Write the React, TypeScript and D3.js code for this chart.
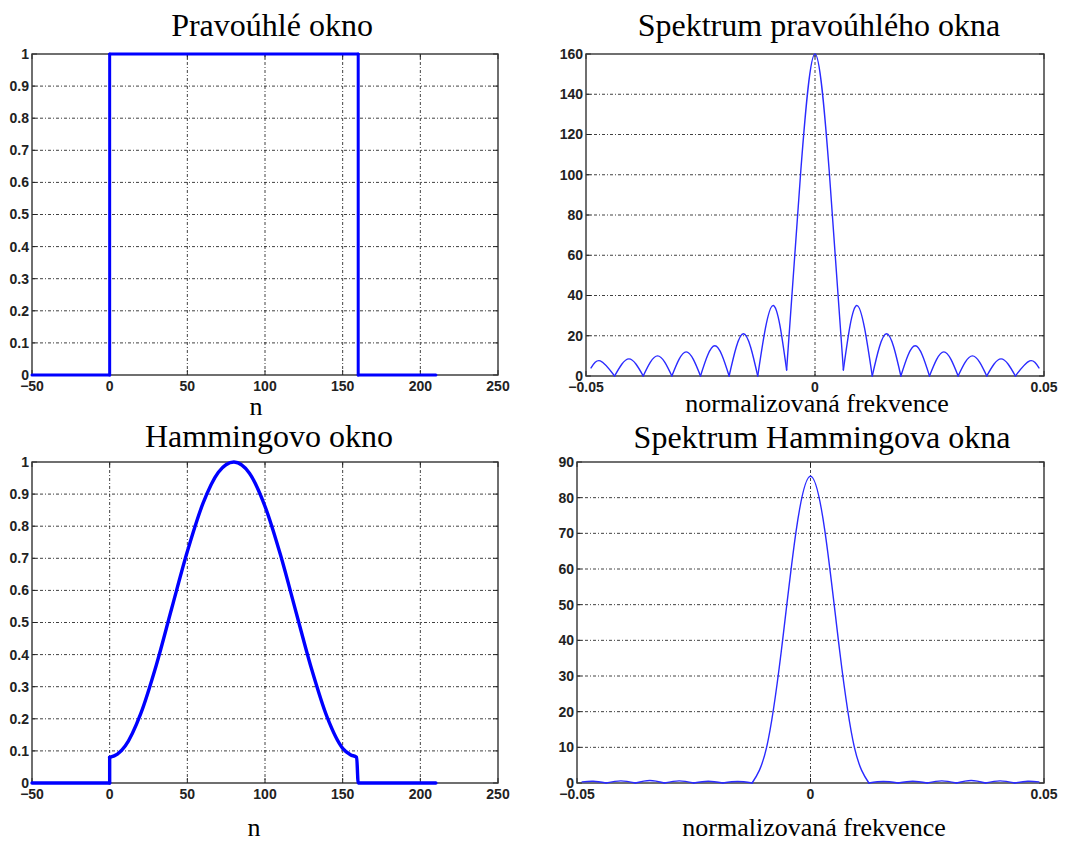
import React from 'react';
import * as d3 from 'd3';

// ---------- tick values ----------
const windowTicksX = [-50, 0, 50, 100, 150, 200, 250];
const windowTicksY = [0, 0.1, 0.2, 0.3, 0.4, 0.5, 0.6, 0.7, 0.8, 0.9, 1];
const specTicksX = [-0.05, 0, 0.05];
const rectSpecTicksY = [0, 20, 40, 60, 80, 100, 120, 140, 160];
const hammSpecTicksY = [0, 10, 20, 30, 40, 50, 60, 70, 80, 90];

// ---------- rectangular window ----------
const rectWinN = [-50, 0, 0, 160, 160, 210];
const rectWinVal = [0, 0, 1, 1, 0, 0];

// ---------- Hamming window ----------
const hammWinN = [-50, 0, 0, 5, 10, 20, 30, 40, 50, 60, 70, 80, 90, 100, 110, 120, 130, 140, 150, 155, 159, 160, 210];
const hammWinVal = [0, 0, 0.08, 0.09, 0.115, 0.216, 0.367, 0.545, 0.721, 0.87, 0.968, 1.0, 0.965, 0.862, 0.71, 0.532, 0.355, 0.205, 0.108, 0.088, 0.08, 0, 0];

// ---------- spectrum of rectangular window ----------
const rectSpecF = [-0.0489, -0.046875, -0.04375, -0.040625, -0.0375, -0.034375, -0.03125, -0.028125, -0.025, -0.021875, -0.01875, -0.015625, -0.0125, -0.0092, -0.0062, -0.0031, 0, 0.0031, 0.0062, 0.0092, 0.0125, 0.015625, 0.01875, 0.021875, 0.025, 0.028125, 0.03125, 0.034375, 0.0375, 0.040625, 0.04375, 0.046875, 0.0489];
const rectSpecVal = [4, 7.5, 0, 8.5, 0, 10, 0, 12, 0, 15, 0, 21, 0, 35, 3, 102, 160, 102, 3, 35, 0, 21, 0, 15, 0, 12, 0, 10, 0, 8.5, 0, 7.5, 4];

// ---------- spectrum of Hamming window ----------
const hammSpecF = [-0.0489, -0.0465, -0.04375, -0.0406, -0.0375, -0.0344, -0.03125, -0.0281, -0.025, -0.0219, -0.01875, -0.0156, -0.0125, -0.0094, -0.00625, -0.0031, 0, 0.0031, 0.00625, 0.0094, 0.0125, 0.0156, 0.01875, 0.0219, 0.025, 0.0281, 0.03125, 0.0344, 0.0375, 0.0406, 0.04375, 0.0465, 0.0489];
const hammSpecVal = [0.3, 0.5, 0, 0.6, 0, 0.7, 0, 0.6, 0, 0.5, 0, 0.4, 0, 10, 37, 70.5, 86, 70.5, 37, 10, 0, 0.4, 0, 0.5, 0, 0.6, 0, 0.7, 0, 0.6, 0, 0.5, 0.3];

const SERIF = '"Liberation Serif", "Times New Roman", serif';
const SANS = '"Liberation Sans", Arial, Helvetica, sans-serif';

function fmt(v: number): string {
  const s = String(v);
  return v < 0 ? '\u2212' + s.slice(1) : s;
}

type Pt = [number, number];

// split into runs; vertical jumps (equal x) become straight segments
function windowRuns(xs: number[], ys: number[]): { pts: Pt[]; curved: boolean }[] {
  const runs: { pts: Pt[]; curved: boolean }[] = [];
  let cur: Pt[] = [[xs[0], ys[0]]];
  for (let i = 1; i < xs.length; i++) {
    if (xs[i] === xs[i - 1]) {
      if (cur.length > 1) runs.push({ pts: cur, curved: true });
      runs.push({ pts: [[xs[i - 1], ys[i - 1]], [xs[i], ys[i]]], curved: false });
      cur = [[xs[i], ys[i]]];
    } else {
      cur.push([xs[i], ys[i]]);
    }
  }
  if (cur.length > 1) runs.push({ pts: cur, curved: true });
  return runs;
}

// split spectrum into lobes at local minima
function lobes(xs: number[], ys: number[]): Pt[][] {
  const out: Pt[][] = [];
  let cur: Pt[] = [[xs[0], ys[0]]];
  for (let i = 1; i < xs.length; i++) {
    cur.push([xs[i], ys[i]]);
    const isMin = i < xs.length - 1 && ys[i] <= ys[i - 1] && ys[i] <= ys[i + 1];
    if (isMin) {
      out.push(cur);
      cur = [[xs[i], ys[i]]];
    }
  }
  if (cur.length > 1) out.push(cur);
  return out;
}

interface PanelProps {
  left: number; right: number; top: number; bottom: number;
  xDomain: [number, number]; yDomain: [number, number];
  xTicks: number[]; yTicks: number[];
  title: string; titleX: number; titleY: number;
  xlabel: string; xlabelX: number; xlabelY: number;
  xs: number[]; ys: number[];
  kind: 'window' | 'spectrum';
  lineWidth: number; lineColor: string;
}

function Panel(p: PanelProps) {
  const x = d3.scaleLinear().domain(p.xDomain).range([p.left, p.right]);
  const y = d3.scaleLinear().domain(p.yDomain).range([p.bottom, p.top]);
  const gridStyle = { stroke: '#111', strokeWidth: 0.8, strokeDasharray: '3,2,1,2' };
  const tickLen = 5;
  const paths: string[] = [];
  if (p.kind === 'window') {
    for (const r of windowRuns(p.xs, p.ys)) {
      const g = d3.line<Pt>().x(d => x(d[0])).y(d => y(d[1]))
        .curve(r.curved ? d3.curveMonotoneX : d3.curveLinear);
      paths.push(g(r.pts) || '');
    }
  } else {
    for (const l of lobes(p.xs, p.ys)) {
      const g = d3.line<Pt>().x(d => x(d[0])).y(d => y(d[1])).curve(d3.curveNatural);
      paths.push(g(l) || '');
    }
  }
  const [x0, x1] = p.xDomain;
  const [y0, y1] = p.yDomain;
  return (
    <g>
      {p.xTicks.filter(t => t !== x0 && t !== x1).map(t => (
        <line key={'gx' + t} x1={x(t)} x2={x(t)} y1={p.top} y2={p.bottom} style={gridStyle} />
      ))}
      {p.yTicks.filter(t => t !== y0 && t !== y1).map(t => (
        <line key={'gy' + t} x1={p.left} x2={p.right} y1={y(t)} y2={y(t)} style={gridStyle} />
      ))}
      {p.xTicks.map(t => (
        <g key={'tx' + t}>
          <line x1={x(t)} x2={x(t)} y1={p.bottom} y2={p.bottom - tickLen} stroke="#222" strokeWidth={1} />
          <line x1={x(t)} x2={x(t)} y1={p.top} y2={p.top + tickLen} stroke="#222" strokeWidth={1} />
        </g>
      ))}
      {p.yTicks.map(t => (
        <g key={'ty' + t}>
          <line x1={p.left} x2={p.left + tickLen} y1={y(t)} y2={y(t)} stroke="#222" strokeWidth={1} />
          <line x1={p.right} x2={p.right - tickLen} y1={y(t)} y2={y(t)} stroke="#222" strokeWidth={1} />
        </g>
      ))}
      <rect x={p.left} y={p.top} width={p.right - p.left} height={p.bottom - p.top}
        fill="none" stroke="#333" strokeWidth={1.4} />
      {paths.map((d, i) => (
        <path key={'p' + i} d={d} fill="none" stroke={p.lineColor} strokeWidth={p.lineWidth}
          strokeLinejoin="round" strokeLinecap="round" />
      ))}
      {p.xTicks.map(t => (
        <text key={'lx' + t} x={x(t)} y={p.bottom + 16} textAnchor="middle"
          fontFamily={SANS} fontWeight="bold" fontSize={14} fill="#222">{fmt(t)}</text>
      ))}
      {p.yTicks.map(t => (
        <text key={'ly' + t} x={p.left - 3} y={y(t)} dy="0.35em" textAnchor="end"
          fontFamily={SANS} fontWeight="bold" fontSize={14} fill="#222">{fmt(t)}</text>
      ))}
      <text x={p.titleX} y={p.titleY} textAnchor="middle" fontFamily={SERIF} fontSize={32} fill="#000">{p.title}</text>
      <text x={p.xlabelX} y={p.xlabelY} textAnchor="middle" fontFamily={SERIF} fontSize={26} fill="#000">{p.xlabel}</text>
    </g>
  );
}

export default function App() {
  return (
    <svg width={1084} height={843} style={{ position: 'absolute', left: 0, top: 0, background: '#fff' }}>
      <rect x={0} y={0} width={1084} height={843} fill="#fff" />
      <Panel left={32} right={498} top={54} bottom={375}
        xDomain={[-50, 250]} yDomain={[0, 1]} xTicks={windowTicksX} yTicks={windowTicksY}
        title="Pravoúhlé okno" titleX={272} titleY={36}
        xlabel="n" xlabelX={256} xlabelY={415}
        xs={rectWinN} ys={rectWinVal} kind="window" lineWidth={3} lineColor="#0000ff" />
      <Panel left={586} right={1044} top={54} bottom={376}
        xDomain={[-0.05, 0.05]} yDomain={[0, 160]} xTicks={specTicksX} yTicks={rectSpecTicksY}
        title="Spektrum pravoúhlého okna" titleX={819} titleY={36}
        xlabel="normalizovaná frekvence" xlabelX={817} xlabelY={412}
        xs={rectSpecF} ys={rectSpecVal} kind="spectrum" lineWidth={1.4} lineColor="#2a2aff" />
      <Panel left={32} right={498} top={462} bottom={783}
        xDomain={[-50, 250]} yDomain={[0, 1]} xTicks={windowTicksX} yTicks={windowTicksY}
        title="Hammingovo okno" titleX={269} titleY={447}
        xlabel="n" xlabelX={254} xlabelY={836}
        xs={hammWinN} ys={hammWinVal} kind="window" lineWidth={3.4} lineColor="#0000ff" />
      <Panel left={577} right={1044} top={462} bottom={783}
        xDomain={[-0.05, 0.05]} yDomain={[0, 90]} xTicks={specTicksX} yTicks={hammSpecTicksY}
        title="Spektrum Hammingova okna" titleX={822} titleY={448}
        xlabel="normalizovaná frekvence" xlabelX={814} xlabelY={836}
        xs={hammSpecF} ys={hammSpecVal} kind="spectrum" lineWidth={1.4} lineColor="#2a2aff" />
    </svg>
  );
}
